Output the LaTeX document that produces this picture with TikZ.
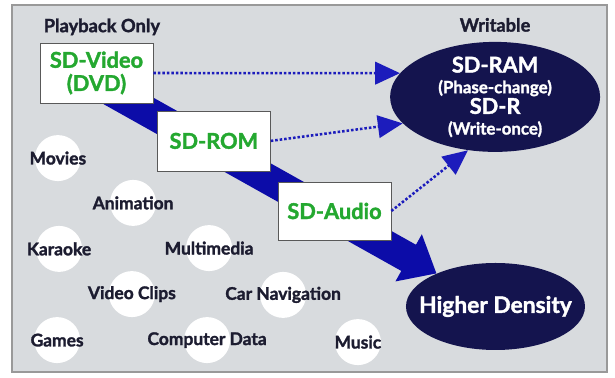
\documentclass[tikz,border=0pt]{standalone}
\usepackage{fontspec}
\setmainfont{Lato}[BoldFeatures={FakeBold=1.6}]
\usepackage{xcolor}
\usepackage{tikz}
\usetikzlibrary{shapes.geometric, arrows.meta, positioning, backgrounds}

\definecolor{panelgray}{RGB}{216,219,222}
\definecolor{sdgreen}{RGB}{36,168,48}
\definecolor{sdnavy}{RGB}{20,20,78}
\definecolor{sdblue}{RGB}{12,12,168}
\definecolor{dotblue}{RGB}{28,28,188}
\definecolor{labelink}{RGB}{28,28,48}

\begin{document}
\begin{tikzpicture}[
    % Panel
    panel/.style={rectangle, draw=gray!80, line width=0.8pt, fill=panelgray, minimum width=14.875cm, minimum height=9.175cm},
    % Headings
    heading/.style={font=\fontsize{13}{15}\selectfont\bfseries, text=labelink},
    % Formats
    format/.style={rectangle, draw=gray!70!black, line width=0.5pt, fill=white, minimum width=2.825cm, minimum height=1.5cm, align=center, text=sdgreen, font=\fontsize{15.5}{16.5}\selectfont\bfseries},
    % Writable / density targets
    target/.style={ellipse, fill=sdnavy, text=white, inner xsep=0pt, inner ysep=-0.15cm, align=center},
    % Applications
    blob/.style={circle, fill=white, minimum size=1.15cm, inner sep=0pt},
    app/.style={blob, label={[text=labelink, font=\fontsize{12.4}{14}\selectfont\bfseries]center:#1}},
    % Connectors
    band/.style={draw=sdblue, line width=0.75cm, -{Triangle[length=0.8cm, width=1.3cm]}},
    dotarrow/.style={draw=dotblue, line width=1.8pt, dash pattern=on 1.8pt off 1.4pt, -{Triangle[length=0.62cm, width=0.56cm, fill=dotblue]}}
]
    \useasboundingbox (-7.7375,-4.7375) rectangle (7.6375,4.7125);

    % Headings
    \node[heading] (playback) at (-5.19, 4.04) {Playback Only};
    \node[heading] (writable) at (4.64, 4.09) {Writable};

    % Applications
    \node[app=Movies] (movies) at (-6.29, 0.76) {};
    \node[app=Animation] (animation) at (-4.41, -0.36) {};
    \node[app=Karaoke] (karaoke) at (-6.26, -1.51) {};
    \node[app=Multimedia] (multimedia) at (-2.51, -1.49) {};
    \node[app=Video Clips] (clips) at (-4.44, -2.64) {};
    \node[app=Car Navigation] (carnav) at (-0.66, -2.66) {};
    \node[app=Games] (games) at (-6.31, -3.79) {};
    \node[app=Computer Data] (data) at (-2.56, -3.79) {};
    \node[app=Music] (music) at (1.21, -3.84) {};

    % Formats
    \node[format] (video) at (-5.325, 2.8875) {SD-Video\\(DVD)};
    \node[format] (rom) at (-2.39, 1.19) {SD-ROM};
    \node[format, minimum height=1.45cm] (audio) at (0.625, -0.5625) {SD-Audio};

    % Targets
    \node[target, minimum width=5.25cm, minimum height=2.75cm, font=\fontsize{12}{14.7}\selectfont\bfseries] (ram) at (4.64, 2.29)
        {{\fontsize{15.5}{14.7}\selectfont SD-RAM}\\(Phase-change)\\{\fontsize{15.5}{14.7}\selectfont SD-R}\\(Write-once)};
    \node[target, minimum width=4.475cm, minimum height=2.175cm, inner xsep=-0.6cm, font=\fontsize{16.2}{18}\selectfont\bfseries] (hd) at (4.65, -2.95) {Higher Density};

    % Dotted links to writable
    \draw[dotarrow] (video.east) -- (ram.166);
    \draw[dotarrow] (rom.east) -- (ram.196);
    \draw[dotarrow] (audio.east) -- (ram.243);

    % Band and panel behind everything
    \coordinate (bandstart) at ([yshift=-0.25cm]video.center);
    \begin{scope}[on background layer]
        \node[panel] (frame) at (0, 0) {};
        \draw[band] (bandstart) -- (hd);
    \end{scope}
\end{tikzpicture}
\end{document}
